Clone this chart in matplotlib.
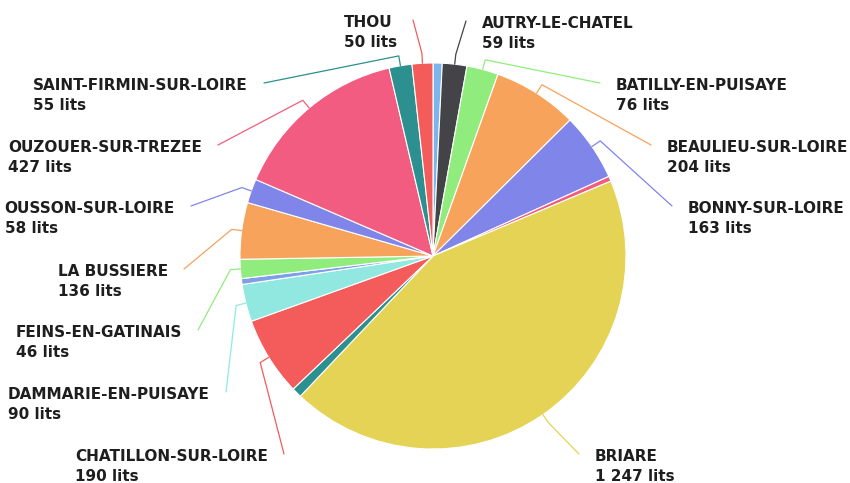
import matplotlib.pyplot as plt
import numpy as np

# Capacité d'hébergement (lits) par commune
communes = ["ADON", "AUTRY-LE-CHATEL", "BATILLY-EN-PUISAYE", "BEAULIEU-SUR-LOIRE",
            "BONNY-SUR-LOIRE", "BRETEAU", "BRIARE", "CERNOY-EN-BERRY",
            "CHATILLON-SUR-LOIRE", "DAMMARIE-EN-PUISAYE", "ESCRIGNELLES",
            "FEINS-EN-GATINAIS", "LA BUSSIERE", "OUSSON-SUR-LOIRE",
            "OUZOUER-SUR-TREZEE", "SAINT-FIRMIN-SUR-LOIRE", "THOU"]
lits = [22, 59, 76, 204, 163, 12, 1247, 24, 190, 90, 14, 46, 136, 58, 427, 55, 50]
couleurs = ["#7cb5ec", "#434348", "#90ed7d", "#f7a35c", "#8085e9", "#f15c80",
            "#e4d354", "#2b908f", "#f45b5b", "#91e8e1", "#7f9ee8", "#90ed7d",
            "#f7a35c", "#8085e9", "#f15c80", "#2b908f", "#f45b5b"]

# position des étiquettes (côté, bord du bloc côté camembert, ligne de base)
etiquettes = {
    "AUTRY-LE-CHATEL": ("droite", 482, 28),
    "BATILLY-EN-PUISAYE": ("droite", 616, 90),
    "BEAULIEU-SUR-LOIRE": ("droite", 667, 152),
    "BONNY-SUR-LOIRE": ("droite", 688, 213),
    "BRIARE": ("droite", 595, 461),
    "CHATILLON-SUR-LOIRE": ("gauche", 268, 461),
    "DAMMARIE-EN-PUISAYE": ("gauche", 210, 399),
    "FEINS-EN-GATINAIS": ("gauche", 182, 337),
    "LA BUSSIERE": ("gauche", 168, 276),
    "OUSSON-SUR-LOIRE": ("gauche", 175, 213),
    "OUZOUER-SUR-TREZEE": ("gauche", 202, 152),
    "SAINT-FIRMIN-SUR-LOIRE": ("gauche", 248, 90),
    "THOU": ("gauche", 397, 27),
}

centre = np.array([433.0, 256.0])
rayon = 193.0

fig = plt.figure(figsize=(8.5, 4.83), dpi=100)
ax = fig.add_axes([0, 0, 1, 1])
# axe y inversé : coordonnées en pixels, départ à midi, sens horaire
parts, _ = ax.pie(lits, colors=couleurs, startangle=-90, counterclock=True,
                  center=tuple(centre), radius=rayon,
                  wedgeprops=dict(edgecolor="white", linewidth=0.8))
ax.set_xlim(0, 850)
ax.set_ylim(483, 0)
ax.set_aspect("equal")
ax.set_axis_off()

police = dict(family="DejaVu Sans", fontweight="bold",
              fontsize=11, color="#1e1e1e")
rendu = fig.canvas.get_renderer()

for part, nom, val, coul in zip(parts, communes, lits, couleurs):
    if nom not in etiquettes:
        continue
    cote, x, y = etiquettes[nom]
    texte_val = f"{val:,} lits".replace(",", " ")
    t1 = ax.text(x, y, nom, ha="left", va="baseline", **police)
    t2 = ax.text(x, y + 20, texte_val, ha="left", va="baseline", **police)
    largeur = max(t1.get_window_extent(rendu).width,
                  t2.get_window_extent(rendu).width)
    if cote == "gauche":
        t1.set_x(x - largeur)
        t2.set_x(x - largeur)
        depart = (x + 16, y - 7)
    else:
        depart = (x - 16, y - 7)

    # trait de rappel : étiquette -> coude -> bord de la part
    milieu = np.deg2rad((part.theta1 + part.theta2) / 2)
    u = np.array([np.cos(milieu), np.sin(milieu)])
    bord = centre + rayon * u
    coude = centre + (rayon + 10) * u
    ax.plot([depart[0], coude[0], bord[0]], [depart[1], coude[1], bord[1]],
            color=coul, linewidth=0.9, solid_capstyle="round",
            solid_joinstyle="round")

fig.savefig("out.png", dpi=100, facecolor="white")
